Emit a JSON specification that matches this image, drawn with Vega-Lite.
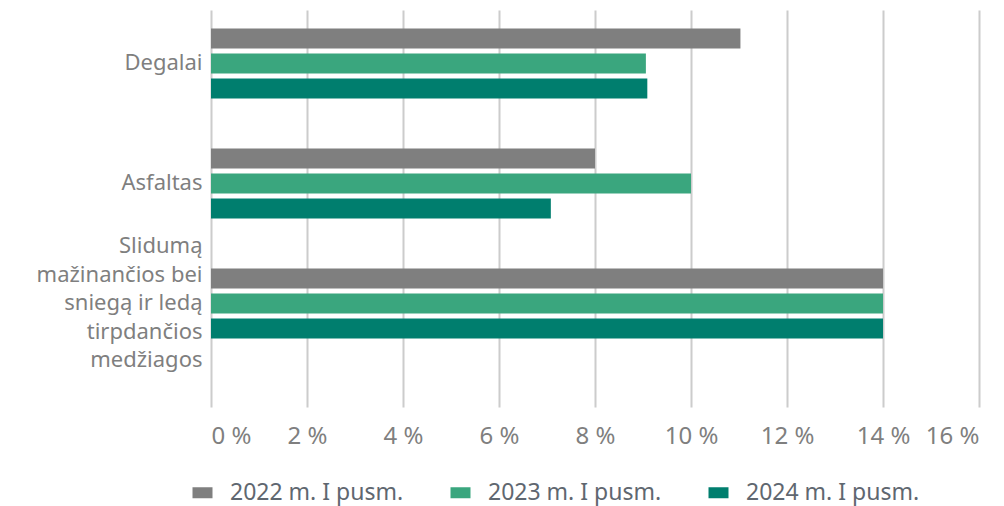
{
  "$schema": "https://vega.github.io/schema/vega-lite/v6.json",
  "autosize": "none",
  "width": 768,
  "height": 397,
  "padding": {"left": 211, "top": 10, "right": 25, "bottom": 99},
  "background": "white",
  "config": {"view": {"stroke": null}, "font": "Noto Sans"},
  "data": {
    "values": [
      {"category": "Degalai", "period": "2022 m. I pusm.", "share": 11.03},
      {"category": "Degalai", "period": "2023 m. I pusm.", "share": 9.06},
      {"category": "Degalai", "period": "2024 m. I pusm.", "share": 9.09},
      {"category": "Asfaltas", "period": "2022 m. I pusm.", "share": 8.0},
      {"category": "Asfaltas", "period": "2023 m. I pusm.", "share": 10.0},
      {"category": "Asfaltas", "period": "2024 m. I pusm.", "share": 7.08},
      {"category": "Slidumą mažinančios bei sniegą ir ledą tirpdančios medžiagos", "period": "2022 m. I pusm.", "share": 14.0},
      {"category": "Slidumą mažinančios bei sniegą ir ledą tirpdančios medžiagos", "period": "2023 m. I pusm.", "share": 14.0},
      {"category": "Slidumą mažinančios bei sniegą ir ledą tirpdančios medžiagos", "period": "2024 m. I pusm.", "share": 14.0}
    ]
  },
  "mark": {"type": "bar"},
  "encoding": {
    "y": {
      "field": "category",
      "type": "nominal",
      "sort": null,
      "scale": {"paddingInner": 0.375, "paddingOuter": 0.342, "align": 0.195},
      "axis": {
        "title": null,
        "domain": false,
        "ticks": false,
        "labelPadding": 9,
        "labelFontSize": 22,
        "labelColor": "#7f7f7f",
        "labelLineHeight": 28.5,
        "labelLimit": 300,
        "labelOffset": {"condition": {"test": "datum.value == 'Slidumą mažinančios bei sniegą ir ledą tirpdančios medžiagos'", "value": -57}, "value": 0},
        "labelExpr": "datum.value == 'Slidumą mažinančios bei sniegą ir ledą tirpdančios medžiagos' ? ['Slidumą ', 'mažinančios bei', 'sniegą ir ledą', 'tirpdančios', 'medžiagos'] : datum.label"
      }
    },
    "yOffset": {
      "field": "period",
      "type": "nominal",
      "sort": null,
      "scale": {"paddingInner": 0.2, "paddingOuter": 0.1}
    },
    "x": {
      "field": "share",
      "type": "quantitative",
      "scale": {"domain": [0, 16], "nice": false},
      "axis": {
        "title": null,
        "values": [0, 2, 4, 6, 8, 10, 12, 14, 16],
        "domain": false,
        "ticks": false,
        "grid": true,
        "gridColor": "#cccccc",
        "gridWidth": 2,
        "labelPadding": 17,
        "labelFontSize": 24,
        "labelColor": "#7f7f7f",
        "labelExpr": "datum.value + ' %'"
      }
    },
    "color": {
      "field": "period",
      "type": "nominal",
      "sort": null,
      "scale": {"range": ["#7f7f7f", "#3aa67e", "#007e6e"]},
      "legend": {
        "title": null,
        "orient": "none",
        "direction": "horizontal",
        "legendX": -20,
        "legendY": 471,
        "symbolType": "M-1,-0.55H1V0.55H-1Z",
        "symbolSize": 400,
        "symbolStrokeWidth": 0,
        "labelFontSize": 23,
        "labelLimit": 400,
        "labelColor": "#5f6770",
        "labelOffset": 16,
        "columnPadding": 45
      }
    }
  }
}
